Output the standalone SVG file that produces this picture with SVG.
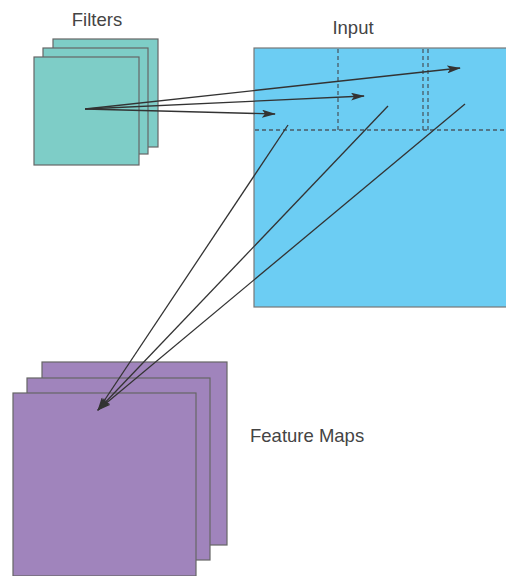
<svg xmlns="http://www.w3.org/2000/svg" width="506" height="576" viewBox="0 0 506 576">
<style>
.lbl{font-family:"Liberation Sans",Arial,sans-serif;font-size:18.5px;fill:#444}
.teal{fill:#7ecdc7;stroke:#666;stroke-width:1.2}
.blue{fill:#6ccdf3;stroke:#777;stroke-width:1.2}
.purple{fill:#a084bc;stroke:#666;stroke-width:1.2}
.dash{fill:none;stroke:#4a5a66;stroke-width:1.3;stroke-dasharray:4,3}
.conn{fill:none;stroke:#333;stroke-width:1.3;marker-end:url(#ah)}
</style>
<defs>
<marker id="ah" markerWidth="14" markerHeight="8" refX="13" refY="4" orient="auto" markerUnits="userSpaceOnUse">
<path d="M0,0 L14,4 L0,8 L3,4 Z" fill="#333"/>
</marker>
</defs>
<rect width="506" height="576" fill="#fff"/>
<g id="filters">
<rect class="teal" x="53" y="39" width="105" height="108"/>
<rect class="teal" x="43" y="48" width="105" height="106"/>
<rect class="teal" x="34" y="57" width="105" height="108"/>
<text class="lbl" x="97" y="26" text-anchor="middle">Filters</text>
</g>
<g id="input">
<rect class="blue" x="254" y="48" width="254" height="259"/>
<line class="dash" x1="255" y1="130" x2="506" y2="130"/>
<line class="dash" x1="338" y1="49" x2="338" y2="130"/>
<line class="dash" x1="423" y1="49" x2="423" y2="130"/>
<line class="dash" x1="428" y1="49" x2="428" y2="130"/>
<text class="lbl" x="353" y="34" text-anchor="middle">Input</text>
</g>
<g id="featuremaps">
<rect class="purple" x="42" y="362" width="185" height="183"/>
<rect class="purple" x="27" y="378" width="183" height="182"/>
<rect class="purple" x="13" y="393" width="183" height="183"/>
<text class="lbl" x="250" y="442">Feature Maps</text>
</g>
<g id="connectors">
<line class="conn" x1="85" y1="109" x2="460" y2="68"/>
<line class="conn" x1="85" y1="109" x2="364" y2="96"/>
<line class="conn" x1="85" y1="109" x2="275" y2="114"/>
<line class="conn" x1="288" y1="125" x2="98" y2="410"/>
<line class="conn" x1="388" y1="106" x2="98" y2="410"/>
<line class="conn" x1="465" y1="104" x2="98" y2="410"/>
</g>
</svg>
